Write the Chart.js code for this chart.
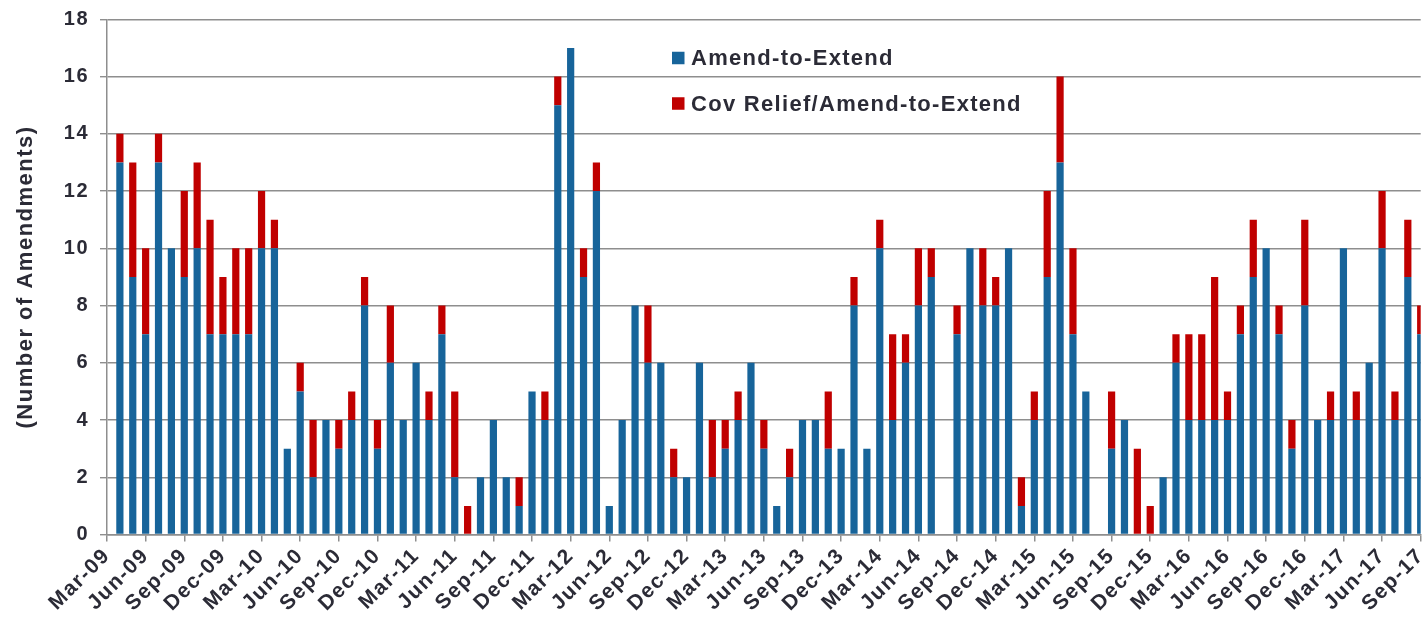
<!DOCTYPE html>
<html>
<head>
<meta charset="utf-8">
<script src="https://cdn.jsdelivr.net/npm/chart.js@4.4.1/dist/chart.umd.min.js"></script>
<style>
  html, body { margin: 0; padding: 0; background: #ffffff; }
  #wrap { width: 1424px; height: 624px; position: relative; }
</style>
</head>
<body>
<div id="wrap"><canvas id="chart"></canvas></div>
<script>
// Monthly categories, Mar-09 through Sep-17
const months = [
  'Mar-09','Apr-09','May-09','Jun-09','Jul-09','Aug-09','Sep-09','Oct-09','Nov-09','Dec-09',
  'Jan-10','Feb-10','Mar-10','Apr-10','May-10','Jun-10','Jul-10','Aug-10','Sep-10','Oct-10','Nov-10','Dec-10',
  'Jan-11','Feb-11','Mar-11','Apr-11','May-11','Jun-11','Jul-11','Aug-11','Sep-11','Oct-11','Nov-11','Dec-11',
  'Jan-12','Feb-12','Mar-12','Apr-12','May-12','Jun-12','Jul-12','Aug-12','Sep-12','Oct-12','Nov-12','Dec-12',
  'Jan-13','Feb-13','Mar-13','Apr-13','May-13','Jun-13','Jul-13','Aug-13','Sep-13','Oct-13','Nov-13','Dec-13',
  'Jan-14','Feb-14','Mar-14','Apr-14','May-14','Jun-14','Jul-14','Aug-14','Sep-14','Oct-14','Nov-14','Dec-14',
  'Jan-15','Feb-15','Mar-15','Apr-15','May-15','Jun-15','Jul-15','Aug-15','Sep-15','Oct-15','Nov-15','Dec-15',
  'Jan-16','Feb-16','Mar-16','Apr-16','May-16','Jun-16','Jul-16','Aug-16','Sep-16','Oct-16','Nov-16','Dec-16',
  'Jan-17','Feb-17','Mar-17','Apr-17','May-17','Jun-17','Jul-17','Aug-17','Sep-17'
];

// Quarter-end months that carry an axis label
const tickMonths = [
  'Mar-09','Jun-09','Sep-09','Dec-09','Mar-10','Jun-10','Sep-10','Dec-10',
  'Mar-11','Jun-11','Sep-11','Dec-11','Mar-12','Jun-12','Sep-12','Dec-12',
  'Mar-13','Jun-13','Sep-13','Dec-13','Mar-14','Jun-14','Sep-14','Dec-14',
  'Mar-15','Jun-15','Sep-15','Dec-15','Mar-16','Jun-16','Sep-16','Dec-16',
  'Mar-17','Jun-17','Sep-17'
];

// Amend-to-Extend deals per month
const amendToExtend = [
  0, 13, 9, 7, 13, 10, 9, 10, 7, 7,
  7, 7, 10, 10, 3, 5, 2, 4, 3, 4, 8, 3,
  6, 4, 6, 4, 7, 2, 0, 2, 4, 2, 1, 5,
  4, 15, 17, 9, 12, 1, 4, 8, 6, 6, 2, 2,
  6, 2, 3, 4, 6, 3, 1, 2, 4, 4, 3, 3,
  8, 3, 10, 4, 6, 8, 9, 0, 7, 10, 8, 8,
  10, 1, 4, 9, 13, 7, 5, 0, 3, 4, 0, 0,
  2, 6, 4, 4, 4, 4, 7, 9, 10, 7, 3, 8,
  4, 4, 10, 4, 6, 10, 4, 9, 7
];

// Covenant relief combined with amend-to-extend, per month
const covRelief = [
  0, 1, 4, 3, 1, 0, 3, 3, 4, 2,
  3, 3, 2, 1, 0, 1, 2, 0, 1, 1, 1, 1,
  2, 0, 0, 1, 1, 3, 1, 0, 0, 0, 1, 0,
  1, 1, 0, 1, 1, 0, 0, 0, 2, 0, 1, 0,
  0, 2, 1, 1, 0, 1, 0, 1, 0, 0, 2, 0,
  1, 0, 1, 3, 1, 2, 1, 0, 1, 0, 2, 1,
  0, 1, 1, 3, 3, 3, 0, 0, 2, 0, 3, 1,
  0, 1, 3, 3, 5, 1, 1, 2, 0, 1, 1, 3,
  0, 1, 0, 1, 0, 2, 1, 2, 1
];

const seriesNames = ['Amend-to-Extend', 'Cov Relief/Amend-to-Extend'];
const yTicks = [0, 2, 4, 6, 8, 10, 12, 14, 16, 18];

const BLUE = '#17649a';
const RED = '#c00000';
const TEXT = '#2b2b36';
const GRID = '#8e8e8e';
const FONT = "'Liberation Sans', Arial, Helvetica, sans-serif";
const SPACING = '1.5px';

// Slightly open letter spacing for every text drawn on the canvas
const textSpacing = {
  id: 'textSpacing',
  beforeUpdate(chart) { try { chart.ctx.letterSpacing = SPACING; } catch (e) {} },
  beforeDraw(chart) { try { chart.ctx.letterSpacing = SPACING; } catch (e) {} }
};

// Legend drawn inside the plot area, two stacked rows
const insideLegend = {
  id: 'insideLegend',
  afterDraw(chart) {
    const ctx = chart.ctx;
    const x0 = 672, y0 = 58, rowGap = 45.5, box = 12.5;
    ctx.save();
    ctx.font = "bold 22px " + FONT;
    ctx.textBaseline = 'middle';
    ctx.textAlign = 'left';
    try { ctx.letterSpacing = '1.3px'; } catch (e) {}
    chart.data.datasets.forEach((ds, i) => {
      const cy = y0 + i * rowGap;
      ctx.fillStyle = ds.backgroundColor;
      ctx.fillRect(x0, cy - box / 2, box, box);
      ctx.fillStyle = TEXT;
      ctx.fillText(ds.label, x0 + 19, cy + 1);
    });
    ctx.restore();
  }
};

new Chart(document.getElementById('chart'), {
  type: 'bar',
  data: {
    labels: months,
    datasets: [
      { label: seriesNames[0], data: amendToExtend, backgroundColor: BLUE,
        barPercentage: 0.56, categoryPercentage: 1.0 },
      { label: seriesNames[1], data: covRelief, backgroundColor: RED,
        barPercentage: 0.56, categoryPercentage: 1.0 }
    ]
  },
  options: {
    responsive: true,
    maintainAspectRatio: false,
    animation: false,
    layout: { padding: { left: 0, right: 3.3, top: 19.3, bottom: 0 } },
    plugins: {
      legend: { display: false },
      tooltip: { enabled: false }
    },
    scales: {
      x: {
        stacked: true,
        offset: false,
        grid: {
          offset: false,
          drawOnChartArea: false,
          drawTicks: true,
          tickLength: 7,
          color: GRID,
          lineWidth: 1.5
        },
        border: { display: true, color: GRID, width: 1.5 },
        ticks: {
          autoSkip: false,
          maxRotation: 45,
          minRotation: 45,
          padding: 2,
          color: TEXT,
          font: { family: FONT, size: 21, weight: 'bold' },
          callback(value, index) {
            const lab = months[index];
            return tickMonths.includes(lab) ? lab : null;
          }
        },
        afterFit(scale) {
          scale.height = 89.5;
          scale.paddingLeft = 0;
          scale.paddingRight = 0;
        }
      },
      y: {
        stacked: true,
        min: 0,
        max: 18,
        afterBuildTicks(scale) { scale.ticks = yTicks.map(v => ({ value: v })); },
        grid: {
          color: GRID,
          lineWidth: 1.4,
          tickLength: 7,
          drawTicks: true
        },
        border: { display: true, color: GRID, width: 1.5 },
        ticks: {
          padding: 11,
          color: TEXT,
          font: { family: FONT, size: 20, weight: 'bold' }
        },
        title: {
          display: true,
          text: '(Number of Amendments)',
          color: TEXT,
          font: { family: FONT, size: 22, weight: 'bold' },
          padding: { top: 13, bottom: 0 }
        },
        afterFit(scale) {
          scale.width = 107;
          scale.paddingTop = 0;
          scale.paddingBottom = 0;
        }
      }
    }
  },
  plugins: [textSpacing, insideLegend]
});
</script>
</body>
</html>
